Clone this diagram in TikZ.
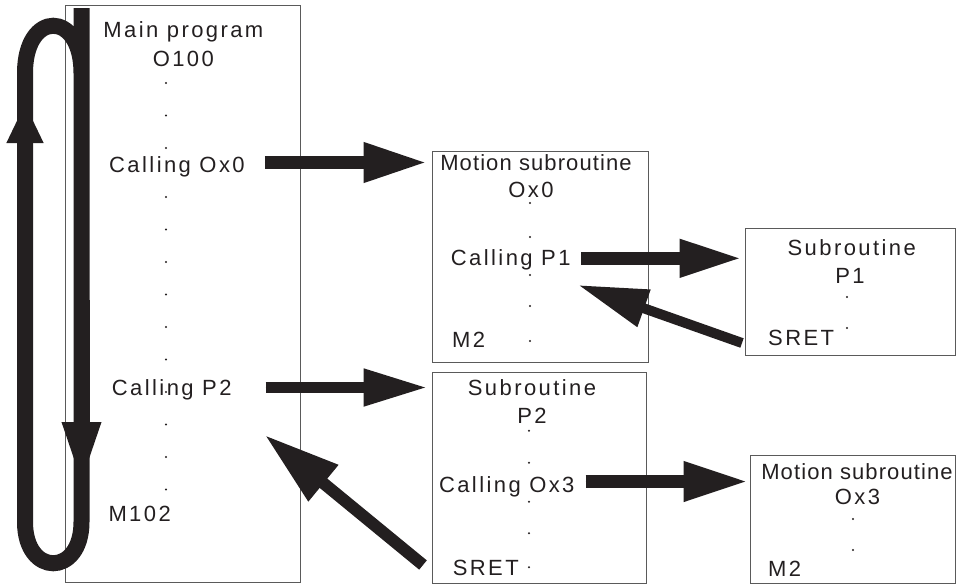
\documentclass[tikz,border=0pt]{standalone}
\usepackage{fontspec}
\usepackage{tikz}
\usetikzlibrary{arrows.meta}
\newfontfamily\lblfont[LetterSpace=11]{Liberation Sans}
\newfontfamily\lbltight[LetterSpace=5]{Liberation Sans}
\definecolor{ink}{HTML}{231F20}
\definecolor{edge}{HTML}{5A5A5A}

\begin{document}
\begin{tikzpicture}[x=1pt,y=-1pt]
\tikzstyle{every node}+=[inner sep=0pt]
\tikzstyle{box}=[draw=edge, line width=1pt]
\tikzstyle{lbl}=[font=\fontsize{22}{26}\selectfont\lblfont, text=ink]
\tikzstyle{lblwide}=[font=\fontsize{22}{26}\selectfont\lbltight, text=ink]
\tikzstyle{fat}=[draw=ink, fill=ink]
\tikzstyle{loopline}=[draw=ink, line width=16pt]
\useasboundingbox (0,0) rectangle (956,584);
% boxes
\node[box, minimum width=235pt, minimum height=577pt] (main) at (182.5,293.5) {};
\node[box, minimum width=216pt, minimum height=211pt] (mOx0) at (540,256.5) {};
\node[box, minimum width=209.5pt, minimum height=127.5pt] (mP1) at (850.25,291.75) {};
\node[box, minimum width=214pt, minimum height=210.5pt] (mP2) at (539.5,477.75) {};
\node[box, minimum width=205.5pt, minimum height=127.3pt] (mOx3) at (852.75,519.35) {};
% main program
\node[lbl, anchor=base] (tMain) at (183.4,37.3) {Main program};
\node[lbl, anchor=base] (tO100) at (183.3,66) {O100};
\node[lbl, anchor=base west] (cOx0) at (109,172.7) {Calling Ox0};
\node[lbl, anchor=base west] (cP2) at (111.7,395) {Calling P2};
\node[lbl, anchor=base west] (tM102) at (108.3,521.5) {M102};
\foreach \y in {83,115.5,148,197,229.5,262,294.5,327,359.5,392,424.5,457,489.5}
  \fill[ink] (166,\y) circle (1.1pt);
% motion subroutine Ox0
\node[lblwide, anchor=base] (tMotA) at (536,170) {Motion subroutine};
\node[lbl, anchor=base] (tOx0) at (531,197.7) {Ox0};
\node[lbl, anchor=base west] (cP1) at (450.7,265.7) {Calling P1};
\node[lbl, anchor=base west] (tM2a) at (452,347) {M2};
\foreach \y in {203,237,275,306,341}
  \fill[ink] (530,\y) circle (1.1pt);
% subroutine P1
\node[lbl, anchor=base] (tSubA) at (851.7,255) {Subroutine};
\node[lbl, anchor=base] (tP1) at (850,283.3) {P1};
\node[lbl, anchor=base west] (sP1) at (768,345) {SRET};
\foreach \y in {297,328}
  \fill[ink] (847,\y) circle (1.1pt);
% subroutine P2
\node[lbl, anchor=base] (tSubB) at (532,395.7) {Subroutine};
\node[lbl, anchor=base] (tP2) at (532,423) {P2};
\node[lbl, anchor=base west] (cOx3) at (438.8,492.7) {Calling Ox3};
\node[lbl, anchor=base west] (sP2) at (452.6,575.7) {SRET};
\foreach \y in {430.7,462.7,501.7,533.3,567.3}
  \fill[ink] (529,\y) circle (1.1pt);
% motion subroutine Ox3
\node[lblwide, anchor=base] (tMotB) at (857,479) {Motion subroutine};
\node[lbl, anchor=base] (tOx3) at (857.5,504.3) {Ox3};
\node[lbl, anchor=base west] (tM2b) at (768,576) {M2};
\foreach \y in {519,550}
  \fill[ink] (853,\y) circle (1.1pt);
% calls
\coordinate (aOx0) at ([xshift=20pt,yshift=10.2pt]cOx0.base east);
\coordinate (aP2) at ([xshift=34pt,yshift=7.5pt]cP2.base east);
\coordinate (aP1) at ([xshift=10.3pt,yshift=7.4pt]cP1.base east);
\coordinate (aOx3) at ([xshift=11pt,yshift=11.2pt]cOx3.base east);
\draw[fat, line width=13pt, -{Triangle[length=64pt,width=37pt]}, shorten >=4pt] (aOx0) -- (aOx0 -| mOx0.west);
\draw[fat, line width=11pt, -{Triangle[length=64pt,width=35pt]}, shorten >=4.5pt] (aP2) -- (aP2 -| mP2.west);
\draw[fat, line width=13pt, -{Triangle[length=63pt,width=35pt]}, shorten >=2.5pt] (aP1) -- (aP1 -| mP1.west);
\draw[fat, line width=13pt, -{Triangle[length=65pt,width=37pt]}, shorten >=1pt] (aOx3) -- (aOx3 -| mOx3.west);
% returns
\coordinate (rP1a) at ([xshift=-26pt,yshift=2pt]sP1.base west);
\coordinate (rP1b) at ([xshift=7.3pt,yshift=-19.3pt]cP1.base east);
\coordinate (rP2a) at ([xshift=-29.6pt,yshift=10.7pt]sP2.base west);
\coordinate (rP2b) at ([xshift=33pt,yshift=-40pt]cP2.base east);
\draw[fat, line width=10pt, -{Triangle[length=70pt,width=37pt]}] (rP1a) -- (rP1b);
\draw[fat, line width=12pt, -{Triangle[length=76pt,width=44pt]}] (rP2a) -- (rP2b);
% loop
\draw[loopline] (81.5,8) -- (81.5,522) .. controls (81.5,577) and (25,577) .. (25,522)
  -- (25,73) .. controls (25,10) and (81.5,10) .. (81.5,73);
\draw[loopline, -{Triangle[length=40pt,width=34pt]}] (25,300) -- (25,103);
\draw[loopline, -{Triangle[length=66pt,width=34pt]}] (81.5,300) -- (81.5,488);
\end{tikzpicture}
\end{document}
